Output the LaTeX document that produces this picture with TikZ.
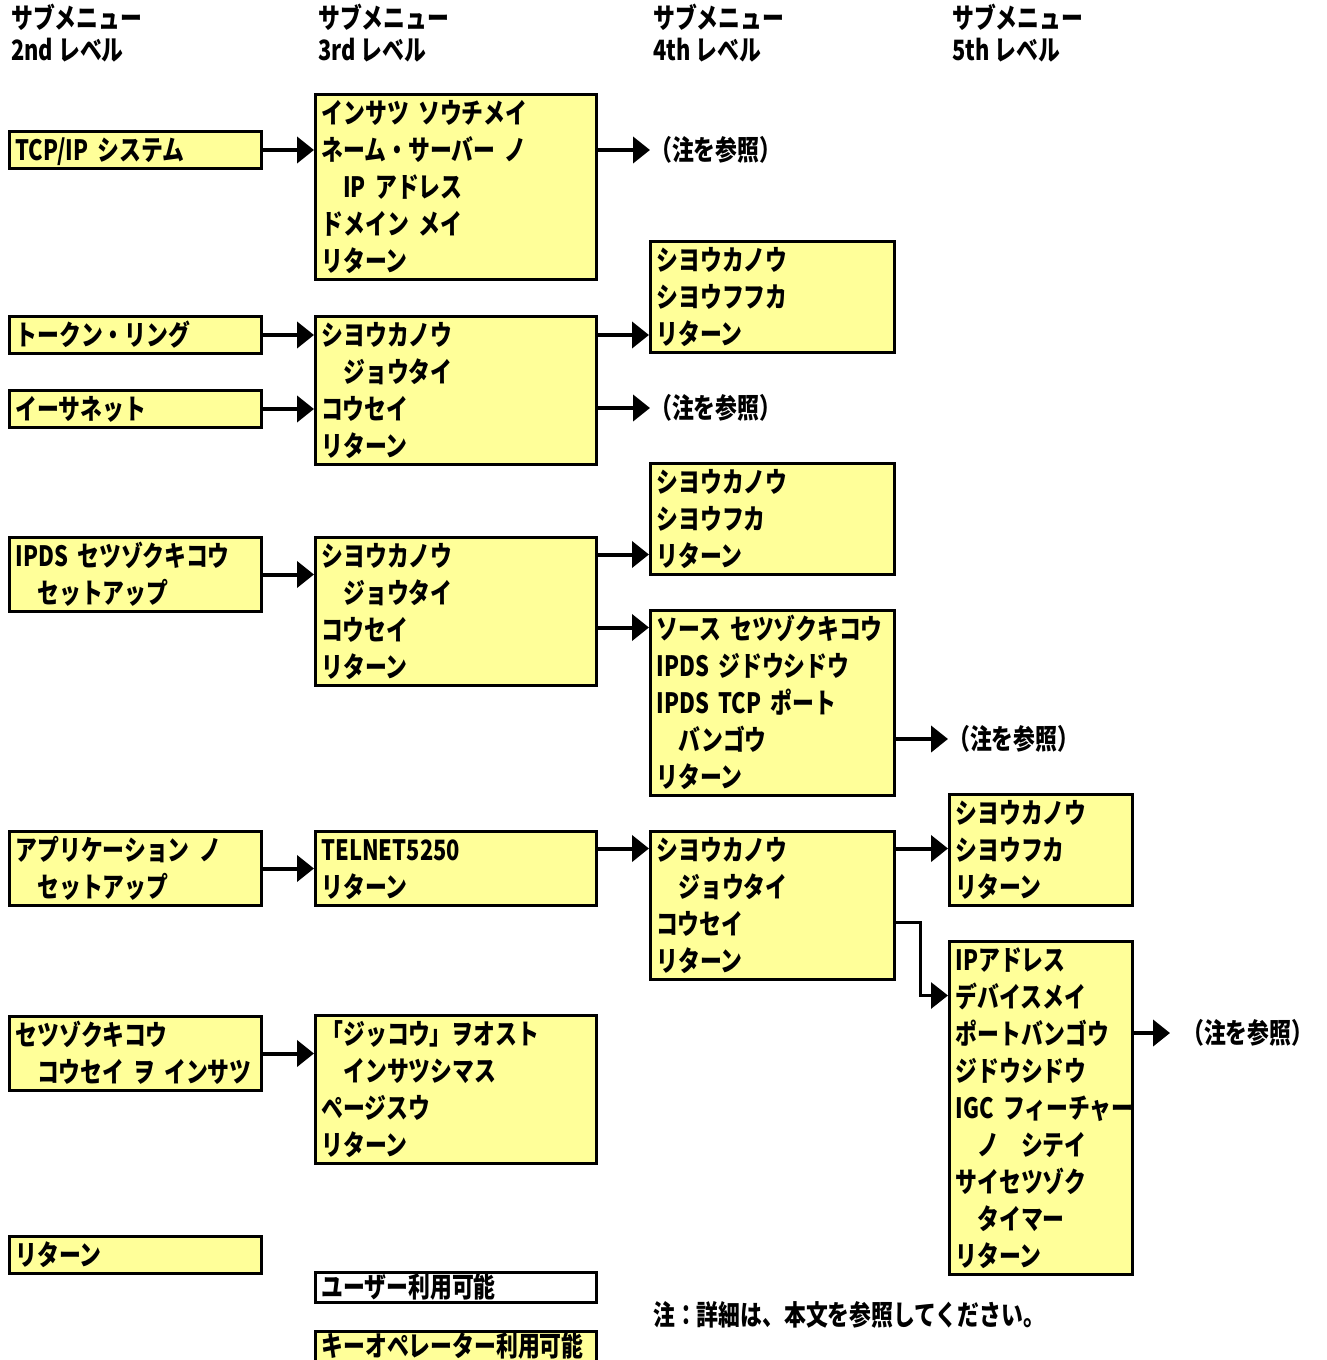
\documentclass[tikz,border=0pt]{standalone}
\usepackage{fontspec}
\setmainfont{Noto Sans CJK JP}[FakeStretch=0.78]
\usetikzlibrary{arrows.meta}
\definecolor{ylw}{HTML}{FFFF99}
\newcommand\st{\rule[-8pt]{0pt}{37pt}}
\newcommand\lgst{\rule[-5pt]{0pt}{30pt}}
\begin{document}
\begin{tikzpicture}[x=1pt,y=-1pt,
 every node/.style={font=\fontsize{28}{37}\selectfont\bfseries},
 bx/.style={draw, line width=3pt, fill=ylw, anchor=north west, inner xsep=6pt, inner ysep=0pt, align=left},
 c1/.style={bx, text width=240pt},
 c2/.style={bx, text width=269pt},
 c3/.style={bx, text width=232pt},
 c4/.style={bx, text width=171pt},
 hd/.style={anchor=north west, inner sep=0pt, align=left, font=\fontsize{28}{32}\selectfont\bfseries},
 nt/.style={anchor=west, inner sep=0pt},
 arr/.style={line width=4pt, -{Triangle[length=17pt,width=26pt]}},
]
\useasboundingbox (0,0) rectangle (1326,1360);

% headers
\node[hd] (h1) at (11,2) {\rule[-5.5pt]{0pt}{32pt}サブメニュー\\\rule[-5.5pt]{0pt}{32pt}2nd~レベル};
\node[hd] (h2) at (318,2) {\rule[-5.5pt]{0pt}{32pt}サブメニュー\\\rule[-5.5pt]{0pt}{32pt}3rd~レベル};
\node[hd] (h3) at (653,2) {\rule[-5.5pt]{0pt}{32pt}サブメニュー\\\rule[-5.5pt]{0pt}{32pt}4th~レベル};
\node[hd] (h4) at (952,2) {\rule[-5.5pt]{0pt}{32pt}サブメニュー\\\rule[-5.5pt]{0pt}{32pt}5th~レベル};

% column 1
\node[c1] (tcp)  at (8,130)  {\st TCP/IP~システム};
\node[c1] (tok)  at (8,315)  {\st トークン・リング};
\node[c1] (eth)  at (8,389)  {\st イーサネット};
\node[c1] (ipds) at (8,536)  {\st IPDS~セツゾクキコウ\\\st 　セットアップ};
\node[c1] (app)  at (8,830)  {\st アプリケーション~ノ\\\st 　セットアップ};
\node[c1] (prt)  at (8,1015) {\st セツゾクキコウ\\\st 　コウセイ~ヲ~インサツ};
\node[c1] (ret)  at (8,1235) {\st リターン};

% column 2
\node[c2] (A) at (314,93)  {\st インサツ~ソウチメイ\\\st ネーム・サーバー~ノ\\\st 　IP~アドレス\\\st ドメイン~メイ\\\st リターン};
\node[c2] (B) at (314,315) {\st シヨウカノウ\\\st 　ジョウタイ\\\st コウセイ\\\st リターン};
\node[c2] (C) at (314,536) {\st シヨウカノウ\\\st 　ジョウタイ\\\st コウセイ\\\st リターン};
\node[c2] (D) at (314,830) {\st TELNET5250\\\st リターン};
\node[c2] (E) at (314,1014) {\st 「ジッコウ」ヲオスト\\\st 　インサツシマス\\\st ページスウ\\\st リターン};
\node[c2, fill=white] (usr) at (314,1271) {\lgst ユーザー利用可能};
\node[c2] (key) at (314,1330) {\lgst キーオペレーター利用可能};

% column 3
\node[c3] (F) at (649,240) {\st シヨウカノウ\\\st シヨウフフカ\\\st リターン};
\node[c3] (G) at (649,462) {\st シヨウカノウ\\\st シヨウフカ\\\st リターン};
\node[c3] (H) at (649,609) {\st ソース~セツゾクキコウ\\\st IPDS~ジドウシドウ\\\st IPDS~TCP~ポート\\\st 　バンゴウ\\\st リターン};
\node[c3] (I) at (649,830) {\st シヨウカノウ\\\st 　ジョウタイ\\\st コウセイ\\\st リターン};

% column 4
\node[c4] (J) at (948,793) {\st シヨウカノウ\\\st シヨウフカ\\\st リターン};
\node[c4] (K) at (948,940) {\st IPアドレス\\\st デバイスメイ\\\st ポートバンゴウ\\\st ジドウシドウ\\\st IGC~フィーチャー\\\st 　ノ　シテイ\\\st サイセツゾク\\\st 　タイマー\\\st リターン};

% notes
\node[nt] (n1) at (650,150)  {（注を参照）};
\node[nt] (n2) at (650,408)  {（注を参照）};
\node[nt] (n3) at (948,739)  {（注を参照）};
\node[nt] (n4) at (1182,1033) {（注を参照）};
\node[nt] (note) at (653,1315) {注：詳細は、本文を参照してください。};

% connectors
\draw[arr] (tcp.east) -- (tcp.east -| A.west);
\draw[arr] (A.east |- n1.west) -- (n1.west);
\draw[arr] (tok.east) -- (tok.east -| B.west);
\draw[arr] (eth.east) -- (eth.east -| B.west);
\draw[arr] (B.east |- tok.east) -- (tok.east -| F.west);
\draw[arr] (B.east |- n2.west) -- (n2.west);
\draw[arr] (ipds.east) -- (ipds.east -| C.west);
\coordinate (cg) at ([yshift=-18.5pt]C.north east);
\draw[arr] (cg) -- (cg -| G.west);
\coordinate (hh) at ([yshift=-18.5pt]H.north west);
\draw[arr] (hh -| C.east) -- (hh);
\draw[arr] (H.east |- n3.west) -- (n3.west);
\draw[arr] (app.east) -- (app.east -| D.west);
\coordinate (di) at ([yshift=-18.5pt]I.north west);
\draw[arr] (di -| D.east) -- (di);
\coordinate (ij) at ([yshift=-18.5pt]I.north east);
\draw[arr] (ij) -- (ij -| J.west);
\coordinate (ik) at ([yshift=-92.5pt]I.north east);
\coordinate (kk) at ([yshift=-55.5pt]K.north west);
\draw[arr, line width=3pt] (ik) -- ++(24,0) |- (kk);
\draw[arr] (K.east |- n4.west) -- ([xshift=-12pt]n4.west);
\draw[arr] (prt.east) -- (prt.east -| E.west);
\end{tikzpicture}
\end{document}
